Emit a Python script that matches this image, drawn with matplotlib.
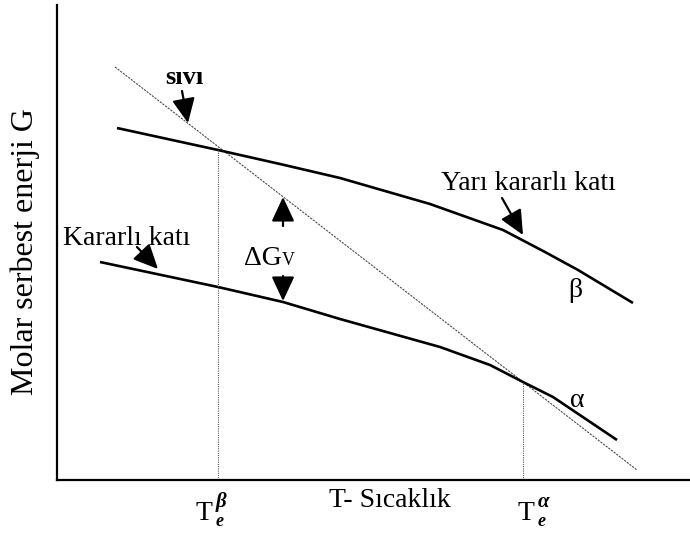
import matplotlib.pyplot as plt

#######################################
#### Data (T in arbitrary units, G in arbitrary units)
#######################################
# liquid (sivi) free energy line
T_liq = [58, 580]
G_liq = [413, 10]

# metastable solid (beta)
T_beta = [60, 161, 223, 283, 373, 446, 488, 521, 576]
G_beta = [352, 330, 316, 302, 276, 250, 228, 210, 177]

# stable solid (alpha)
T_alpha = [43, 161, 226, 283, 383, 433, 466, 496, 560]
G_alpha = [218, 193, 178, 161, 133, 115, 98, 83, 40]

# equilibrium melting temperatures and G where liquid meets each solid
Te_beta, G_Te_beta = 161, 330
Te_alpha, G_Te_alpha = 466, 98

#######################################
#### Plot
#######################################
plt.rcParams['font.family'] = ['Liberation Serif', 'DejaVu Serif']

fig = plt.figure(figsize=(6.9, 5.35), dpi=100)
ax = fig.add_axes([57/690, 55/535, 633/690, 475/535])
ax.set_xlim(0, 633)
ax.set_ylim(0, 475)

for s in ['top', 'right']:
   ax.spines[s].set_visible(False)
ax.spines['left'].set_linewidth(1.6)
ax.spines['bottom'].set_linewidth(1.6)
ax.set_xticks([])
ax.set_yticks([])

# curves
ax.plot(T_liq, G_liq, color='0.3', lw=0.8, ls=(0, (2, 1)))
ax.plot(T_beta, G_beta, color='k', lw=1.9, solid_capstyle='butt')
ax.plot(T_alpha, G_alpha, color='k', lw=1.9, solid_capstyle='butt')

# dotted drop lines at Te
ax.plot([Te_beta, Te_beta], [0, G_Te_beta], color='0.35', lw=0.8, ls=(0, (1, 1)))
ax.plot([Te_alpha, Te_alpha], [0, G_Te_alpha], color='0.35', lw=0.8, ls=(0, (1, 1)))

arrow = dict(arrowstyle='-|>,head_length=0.75,head_width=0.35', mutation_scale=20,
             lw=1.6, color='k', shrinkA=0, shrinkB=0)
fs = 20

# liquid label
ax.text(127, 402, 'sıvı', fontsize=19, fontweight='bold', ha='center', va='center')
ax.annotate('', xy=(131, 357), xytext=(125, 389), arrowprops=arrow)

# metastable solid label
ax.text(471, 290, 'Yarı kararlı katı', fontsize=fs, ha='center', va='baseline')
ax.annotate('', xy=(466, 245), xytext=(445, 282), arrowprops=arrow)

# stable solid label
ax.text(70, 235, 'Kararlı katı', fontsize=fs, ha='center', va='baseline')
ax.annotate('', xy=(101, 211), xytext=(80, 233), arrowprops=arrow)

# driving force Delta G_V
ax.text(225, 215, 'ΔG', fontsize=fs, ha='right', va='baseline')
ax.text(225, 215, 'V', fontsize=13, ha='left', va='baseline')
ax.annotate('', xy=(226, 283), xytext=(226, 254), arrowprops=arrow)
ax.annotate('', xy=(226, 179), xytext=(226, 204), arrowprops=arrow)

# phase symbols
ax.text(518, 183, 'β', fontsize=fs, ha='center', va='baseline')
ax.text(520, 73, 'α', fontsize=fs, ha='center', va='baseline')

# Te labels: T with phase as superscript and e as subscript
def te_label(x, phase):
   ax.text(x, -40, 'T', fontsize=fs, ha='left', va='baseline', clip_on=False)
   ax.text(x + 21, -27, phase, fontsize=15, style='italic', fontweight='bold',
           ha='left', va='baseline', clip_on=False)
   ax.text(x + 21, -46, 'e', fontsize=13, style='italic', fontweight='bold',
           ha='left', va='baseline', clip_on=False)

te_label(138, 'β')
te_label(460, 'α')

# axis labels
ax.text(333, -27, 'T- Sıcaklık', fontsize=fs, ha='center', va='baseline', clip_on=False)
ax.text(-32, 228, 'Molar serbest enerji G', fontsize=23, rotation=90,
        ha='center', va='center', clip_on=False)

fig.savefig('out.png', dpi=100)
